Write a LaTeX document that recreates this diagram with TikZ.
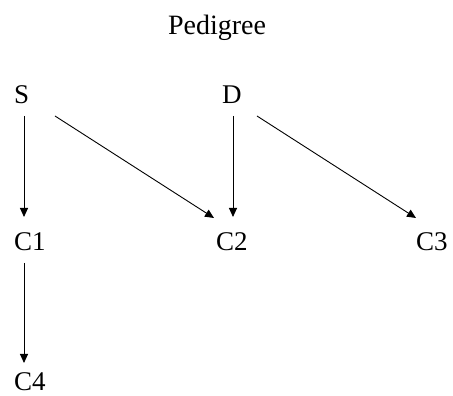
\documentclass[tikz,border=0pt]{standalone}
\usepackage{fontspec}
\setmainfont{Liberation Serif}
\usetikzlibrary{arrows.meta}
\begin{document}
\begin{tikzpicture}[x=1pt,y=1pt,
  lbl/.style={inner sep=0pt,anchor=base west,font=\fontsize{27}{31}\selectfont},
  arr/.style={line width=0.9pt,-{Triangle[length=9pt,width=8pt]}}]
\useasboundingbox (0,0) rectangle (453,396);
\node[inner sep=0pt,anchor=base,font=\fontsize{28}{32}\selectfont] (title) at (217,361) {Pedigree};
\node[lbl] (S) at (14,292) {S};
\node[lbl] (D) at (222,292) {D};
\node[lbl] (C1) at (14,145) {C1};
\node[lbl] (C2) at (216,145) {C2};
\node[lbl] (C3) at (416,145) {C3};
\node[lbl] (C4) at (14,5) {C4};
\draw[arr] ([shift={(10,-12)}]S.base west) -- ([shift={(10,34)}]C1.base west);
\draw[arr] ([shift={(41,-12)}]S.base west) -- ([shift={(-2,33)}]C2.base west);
\draw[arr] ([shift={(11,-12)}]D.base west) -- ([shift={(17,34)}]C2.base west);
\draw[arr] ([shift={(35,-12)}]D.base west) -- ([shift={(0,33)}]C3.base west);
\draw[arr] ([shift={(10,-12)}]C1.base west) -- ([shift={(10,28)}]C4.base west);
\end{tikzpicture}
\end{document}
